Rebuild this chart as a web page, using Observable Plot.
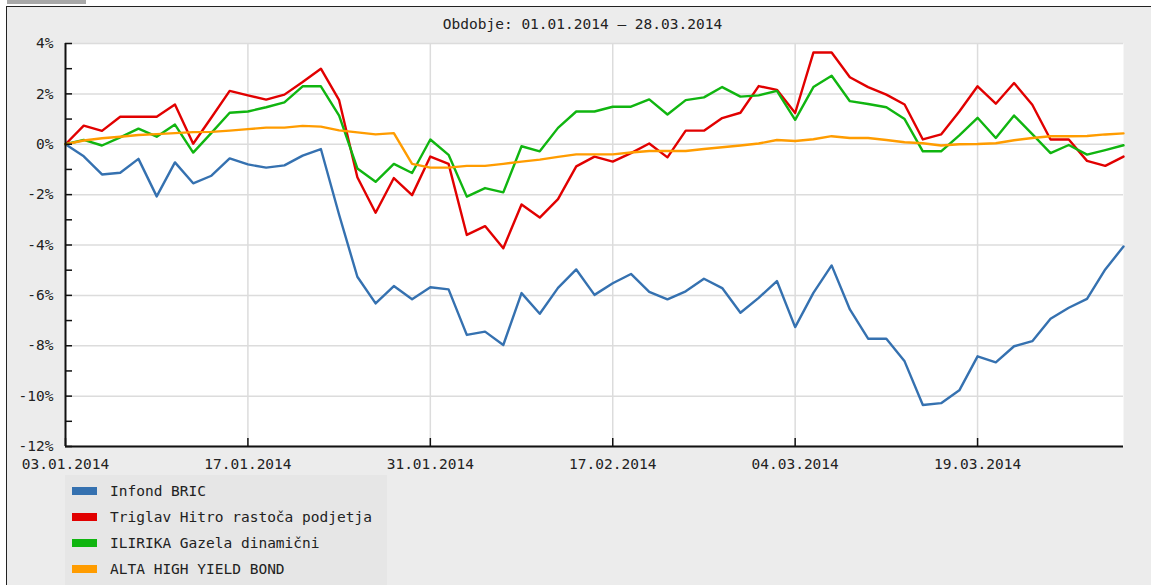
<!DOCTYPE html>
<html>
<head>
<meta charset="utf-8">
<script src="https://cdn.jsdelivr.net/npm/d3@7"></script>
<script src="https://cdn.jsdelivr.net/npm/@observablehq/plot@0.6"></script>
<style>
  html, body { margin: 0; padding: 0; background: #fff; }
  #wrap { position: relative; width: 1151px; height: 585px; overflow: hidden; font-family: "DejaVu Sans Mono", monospace; color: #222; }
  #tab { position: absolute; left: 7px; top: 0; width: 79px; height: 4px; background: #a9a9a9; }
  #panel { position: absolute; left: 6px; top: 6px; width: 1170px; height: 600px; background: #ececec; border-left: 1px solid #222; border-top: 1px solid #222; }
  #title { position: absolute; left: 0; top: 16px; width: 1165px; text-align: center; font-size: 14.5px; line-height: 16px; }
  #chart { position: absolute; left: 0; top: 0; }
  #legend { position: absolute; left: 65px; top: 475px; width: 322px; height: 115px; background: #e6e6e6; }
  .row { position: absolute; left: 0; height: 20px; font-size: 14.5px; line-height: 20px; white-space: pre; }
  .sw { position: absolute; left: 7px; top: 6px; width: 25px; height: 8px; }
  .lb { position: absolute; left: 45px; top: 0; }
</style>
</head>
<body>
<div id="wrap">
  <div id="tab"></div>
  <div id="panel"></div>
  <div id="title"></div>
  <div id="chart"></div>
  <div id="legend"></div>
</div>
<script>
const titleText = "Obdobje: 01.01.2014 – 28.03.2014";
const seriesNames = ["Infond BRIC", "Triglav Hitro rastoča podjetja", "ILIRIKA Gazela dinamični", "ALTA HIGH YIELD BOND"];
const seriesColors = ["#3571b0", "#e10000", "#10b510", "#ff9c00"];

const xTickIndex = [0, 10, 20, 30, 40, 50];
const xTickLabels = ["03.01.2014", "17.01.2014", "31.01.2014", "17.02.2014", "04.03.2014", "19.03.2014"];
const yLabelTicks = [-12, -10, -8, -6, -4, -2, 0, 2, 4];
const yMinorTicks = [-12, -11, -10, -9, -8, -7, -6, -5, -4, -3, -2, -1, 0, 1, 2, 3, 4];

const infondBric = [0,-0.48,-1.2,-1.13,-0.58,-2.07,-0.72,-1.55,-1.25,-0.56,-0.8,-0.93,-0.84,-0.45,-0.19,
  -2.8,-5.26,-6.32,-5.63,-6.15,-5.68,-5.76,-7.57,-7.44,-7.97,-5.91,-6.73,-5.70,-4.97,-5.98,
  -5.52,-5.15,-5.86,-6.16,-5.84,-5.34,-5.71,-6.69,-6.1,-5.43,-7.26,-5.9,-4.81,-6.56,-7.72,
  -7.72,-8.62,-10.35,-10.28,-9.77,-8.42,-8.66,-8.02,-7.82,-6.93,-6.49,-6.14,-4.97,-4.06];
const triglav = [0,0.74,0.53,1.09,1.09,1.09,1.58,0.02,1.06,2.12,1.94,1.77,1.97,2.47,3.0,
  1.75,-1.31,-2.72,-1.34,-2.02,-0.49,-0.78,-3.6,-3.25,-4.13,-2.39,-2.91,-2.18,-0.88,-0.49,
  -0.69,-0.35,0.03,-0.52,0.54,0.54,1.04,1.25,2.31,2.16,1.24,3.64,3.64,2.66,2.27,
  1.97,1.58,0.19,0.39,1.3,2.3,1.61,2.43,1.57,0.19,0.19,-0.66,-0.86,-0.49];
const ilirika = [0,0.17,-0.05,0.27,0.62,0.3,0.78,-0.33,0.45,1.25,1.3,1.47,1.66,2.3,2.3,
  1.14,-0.96,-1.49,-0.78,-1.14,0.19,-0.42,-2.08,-1.74,-1.91,-0.08,-0.28,0.65,1.3,1.3,
  1.49,1.49,1.78,1.18,1.75,1.86,2.27,1.89,1.94,2.12,0.97,2.27,2.72,1.71,1.6,
  1.47,1.0,-0.28,-0.28,0.35,1.05,0.25,1.14,0.4,-0.35,-0.03,-0.41,-0.23,-0.04];
const alta = [0,0.15,0.24,0.3,0.37,0.4,0.44,0.48,0.49,0.54,0.6,0.66,0.66,0.73,0.7,
  0.55,0.47,0.39,0.44,-0.78,-0.93,-0.93,-0.86,-0.86,-0.78,-0.69,-0.61,-0.5,-0.4,-0.4,
  -0.4,-0.33,-0.27,-0.27,-0.27,-0.19,-0.12,-0.05,0.03,0.17,0.13,0.2,0.32,0.25,0.25,
  0.17,0.08,0.04,-0.05,0,0.01,0.04,0.16,0.25,0.32,0.32,0.33,0.39,0.43];

const seriesValues = [infondBric, triglav, ilirika, alta];
const rows = [];
seriesValues.forEach((vals, s) => vals.forEach((v, i) => rows.push({i, v, series: seriesNames[s]})));

document.getElementById("title").textContent = titleText;

const W = 1151, H = 480;
const font = "'DejaVu Sans Mono', monospace";
const chart = Plot.plot({
  width: W,
  height: H,
  marginLeft: 65,
  marginRight: 28,
  marginTop: 43,
  marginBottom: 34,
  style: `background: transparent; overflow: visible; font-family: ${font}; font-size: 14.5px; color: #222;`,
  x: {domain: [0, infondBric.length - 1], nice: false},
  y: {domain: [-12, 4], nice: false},
  color: {domain: seriesNames, range: seriesColors},
  marks: [
    Plot.frame({fill: "white", stroke: null}),
    Plot.gridY(yLabelTicks, {stroke: "#dcdcdc", strokeOpacity: 1, strokeWidth: 1.5}),
    Plot.gridX(xTickIndex.slice(1), {stroke: "#dcdcdc", strokeOpacity: 1, strokeWidth: 1.5}),
    Plot.line(rows, {x: "i", y: "v", z: "series", stroke: "series", strokeWidth: 2.4, strokeLinejoin: "round"}),
    Plot.ruleX([0], {stroke: "#111", strokeWidth: 2}),
    Plot.ruleY([-12], {stroke: "#111", strokeWidth: 2}),
    Plot.axisY(yMinorTicks, {tickSize: -7, tickFormat: () => "", label: null, stroke: "#111", strokeWidth: 1.5}),
    Plot.axisY(yLabelTicks, {tickSize: 0, tickPadding: 12, tickFormat: d => d + "%", label: null, fill: "#222", fontSize: 14.5}),
    Plot.axisX(xTickIndex, {tickSize: -8, tickFormat: () => "", label: null, stroke: "#111", strokeWidth: 1.5}),
    Plot.axisX(xTickIndex, {tickSize: 0, tickPadding: 12, tickFormat: d => xTickLabels[xTickIndex.indexOf(d)], label: null, fill: "#222", fontSize: 14.5})
  ]
});
document.getElementById("chart").appendChild(chart);

const legend = document.getElementById("legend");
seriesNames.forEach((name, k) => {
  const row = document.createElement("div");
  row.className = "row";
  row.style.top = (6 + k * 26) + "px";
  const sw = document.createElement("div");
  sw.className = "sw";
  sw.style.background = seriesColors[k];
  const lb = document.createElement("div");
  lb.className = "lb";
  lb.textContent = name;
  row.appendChild(sw);
  row.appendChild(lb);
  legend.appendChild(row);
});
</script>
</body>
</html>
